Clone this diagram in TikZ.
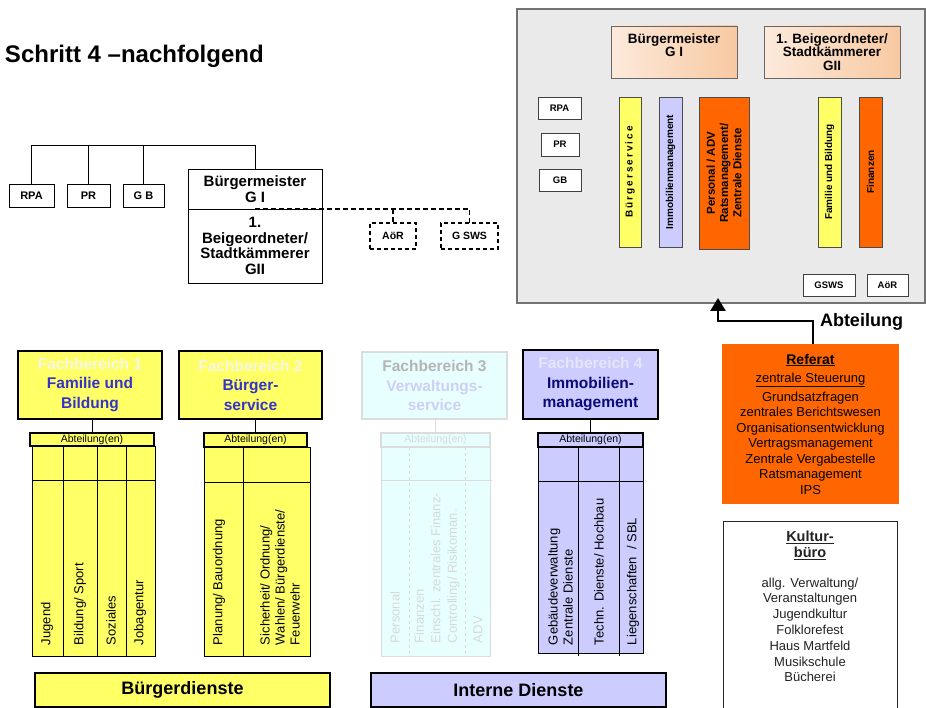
\documentclass[tikz,border=0pt]{standalone}
\usepackage{fontspec}
\setmainfont{Liberation Sans}
\usetikzlibrary{arrows.meta}
\definecolor{cyel}{HTML}{FFFF66}
\definecolor{clav}{HTML}{CCCCFF}
\definecolor{corg}{HTML}{FF6600}
\definecolor{cgrey}{HTML}{EAEAEA}
\definecolor{cpeachL}{HTML}{FCEADB}
\definecolor{cpeachR}{HTML}{F8C9A2}
\definecolor{cblue}{HTML}{3333CC}
\definecolor{cnavy}{HTML}{0A0A78}
\definecolor{cfbA}{HTML}{F6F6E6}
\definecolor{cfbD}{HTML}{E6E6FA}
\definecolor{cfbC}{HTML}{B4B4B4}
\definecolor{cfbCb}{HTML}{CFCFF5}
\definecolor{cthreefill}{HTML}{E8FFFF}
\definecolor{cthreeline}{HTML}{DCDCDC}
\definecolor{cthreetext}{HTML}{D6DADA}
\definecolor{ckb}{HTML}{222222}
\tikzset{
  every node/.style={inner sep=0pt, outer sep=0pt, align=center},
  sbox/.style={draw=black, line width=0.9pt, fill=white, font=\bfseries\fontsize{11}{13}\selectfont},
  bmfont/.style={font=\bfseries\fontsize{15}{15.5}\selectfont},
  dbox/.style={draw=black, line width=1.4pt, dash pattern=on 4pt off 3pt, fill=white, font=\bfseries\fontsize{10.5}{13}\selectfont},
  gsbox/.style={draw=black!75, line width=0.8pt, fill=white, font=\bfseries\fontsize{9.5}{11}\selectfont},
  peach/.style={draw=black!60, line width=0.8pt, left color=cpeachL, right color=cpeachR, font=\bfseries\fontsize{13.5}{13.5}\selectfont},
  bar/.style={draw=black!70, line width=0.8pt, rotate=90, font=\bfseries\fontsize{10}{12}\selectfont},
  fbbox/.style={draw=black, line width=2.8pt, font=\bfseries\fontsize{15.5}{19.5}\selectfont},
  hdr/.style={draw=black, line width=1.5pt, font=\fontsize{10.5}{11}\selectfont},
  tbl/.style={draw=black, line width=1pt},
  tline/.style={draw=black, line width=1pt},
  vtext/.style={rotate=90, anchor=west, align=left, font=\fontsize{13}{15}\selectfont},
  bigbox/.style={draw=black, line width=2.8pt, font=\bfseries\fontsize{18}{20}\selectfont},
  conn/.style={draw=black, line width=0.9pt},
  dconn/.style={draw=black, line width=1.3pt, dash pattern=on 5pt off 3pt},
}
\begin{document}
\begin{tikzpicture}[x=1pt,y=-1pt]
\useasboundingbox (0,0) rectangle (926,708);
\fill[white] (0,0) rectangle (926,708);

% title
\node[anchor=base west, font=\bfseries\fontsize{24}{28}\selectfont] (title) at (5,63) {Schritt 4 –nachfolgend};

% top-left chart
\node[sbox, minimum width=45, minimum height=23] (rpa) at (31.5,195.5) {RPA};
\node[sbox, minimum width=43, minimum height=23] (pr) at (88.5,195.5) {PR};
\node[sbox, minimum width=41, minimum height=23] (gb) at (143.5,195.5) {G B};
\node[sbox, bmfont, minimum width=134, minimum height=40] (bm) at (255,189) {Bürgermeister\\G I};
\node[sbox, bmfont, minimum width=134, minimum height=74] (bg) at (255,246) {1.\\Beigeordneter/\\Stadtkämmerer\\GII};
\node[dbox, minimum width=46, minimum height=26] (aor) at (393,236) {AöR};
\node[dbox, minimum width=57, minimum height=26] (gsws) at (469.5,236) {G SWS};
\coordinate (bus) at (0,145);
\draw[conn] (rpa.north) -- (rpa.north |- bus) -- (bm.north |- bus) -- (bm.north);
\draw[conn] (pr.north) -- (pr.north |- bus);
\draw[conn] (gb.north) -- (gb.north |- bus);
\draw[dconn] (bm.south) -- (gsws.north |- bm.south) -- (gsws.north);
\draw[dconn] (aor.north |- bm.south) -- (aor.north);

% grey box (top right)
\node[draw=black!55, line width=1.8pt, fill=cgrey, minimum width=408, minimum height=294] (grey) at (721,156) {};
\node[peach, minimum width=126, minimum height=52] (gbm) at (674,52) {Bürgermeister\\G I\\~};
\node[peach, minimum width=136, minimum height=52] (gbg) at (832,52) {1. Beigeordneter/\\Stadtkämmerer\\GII};
\node[gsbox, minimum width=43, minimum height=22] (grpa) at (559.5,108) {RPA};
\node[gsbox, minimum width=38, minimum height=23] (gpr) at (560,144.5) {PR};
\node[gsbox, minimum width=42, minimum height=22] (ggb) at (560,180) {GB};
\node[bar, fill=cyel, minimum width=150, minimum height=22] (bsv) at (630,172) {\addfontfeature{LetterSpace=20}Bürgerservice};
\node[bar, fill=clav, minimum width=150, minimum height=23] (bim) at (670.5,172) {Immobilienmanagement};
\node[bar, fill=corg, minimum width=152, minimum height=50, font=\bfseries\fontsize{11.5}{13.3}\selectfont] (bpa) at (724,173) {Personal / ADV\\Ratsmanagement/\\Zentrale Dienste};
\node[bar, fill=cyel, minimum width=150, minimum height=23] (bfb) at (829.5,172) {Familie und Bildung};
\node[bar, fill=corg, minimum width=150, minimum height=23] (bfi) at (870.5,172) {Finanzen};
\node[gsbox, minimum width=52, minimum height=22] (ggsws) at (829,285) {GSWS};
\node[gsbox, minimum width=41, minimum height=22] (gaor) at (887.5,285) {AöR};

% Referat
\node[fill=corg, minimum width=177, minimum height=160, font=\fontsize{13}{15.5}\selectfont] (ref) at (810.5,424)
  {\fontsize{14}{15.5}\selectfont\bfseries\underline{Referat}\\[3pt]
   \fontsize{13}{15.5}\selectfont\mdseries\underline{zentrale Steuerung}\\[3pt]
   Grundsatzfragen\\zentrales Berichtswesen\\Organisationsentwicklung\\Vertragsmanagement\\Zentrale Vergabestelle\\Ratsmanagement\\IPS};
\coordinate (a1) at (813,321);
\coordinate (a2) at (718,321);
\coordinate (tip) at (718,298);
\draw[line width=2.6pt, -{Triangle[width=15pt,length=13pt]}] (ref.north -| a1) -- (a1) -- (a2) -- (tip);
\node[anchor=base west, font=\bfseries\fontsize{18}{20}\selectfont] (abt) at (820,327) {Abteilung};

% Kulturbuero
\node[draw=black!85, line width=1pt, fill=white, minimum width=174, minimum height=201] (kb) at (810,621.5) {};
\node[anchor=north, text=ckb, font=\fontsize{13}{15.8}\selectfont] (kbt) at (810,531)
  {\fontsize{14.5}{15.8}\selectfont\bfseries\underline{Kultur-}\\\fontsize{14.5}{15.8}\selectfont\bfseries\underline{büro}\\[14pt]
   \fontsize{13}{15.8}\selectfont\mdseries allg. Verwaltung/\\Veranstaltungen\\Jugendkultur\\Folklorefest\\Haus Martfeld\\Musikschule\\Bücherei};

% Fachbereich boxes
\node[fbbox, fill=cyel, minimum width=144, minimum height=68] (fb1) at (90,385)
  {\textcolor{cfbA}{Fachbereich 1}\\\textcolor{cblue}{Familie und}\\\textcolor{cblue}{Bildung}};
\node[fbbox, fill=cyel, minimum width=143, minimum height=68] (fb2) at (250.5,385)
  {\textcolor{cfbA}{Fachbereich 2}\\\textcolor{cblue}{Bürger-}\\\textcolor{cblue}{service}};
\node[fbbox, fill=cthreefill, draw=cthreeline, line width=2pt, minimum width=145, minimum height=67] (fb3) at (434.5,385.5)
  {\textcolor{cfbC}{Fachbereich 3}\\\textcolor{cfbCb}{Verwaltungs-}\\\textcolor{cfbCb}{service}};
\node[fbbox, fill=clav, minimum width=135, minimum height=69] (fb4) at (590.5,384.5)
  {\textcolor{cfbD}{Fachbereich 4}\\\textcolor{cnavy}{Immobilien-}\\\textcolor{cnavy}{management}};

% tables
\node[tbl, fill=cyel, minimum width=123, minimum height=210] (t1) at (93.5,551) {};
\node[tbl, fill=cyel, minimum width=106, minimum height=209] (t2) at (257,551.5) {};
\node[tbl, fill=cthreefill, draw=cthreeline, minimum width=109, minimum height=209] (t3) at (435.5,551.5) {};
\node[tbl, fill=clav, minimum width=105, minimum height=206] (t4) at (590.5,550) {};

\draw[tline] (63,446) -- (63,656);
\draw[tline] (97,446) -- (97,656);
\draw[tline] (126,446) -- (126,656);
\draw[tline] (32,480) -- (155,480);
\draw[tline] (243,447) -- (243,656);
\draw[tline] (204,482) -- (310,482);
\draw[cthreeline, line width=1pt, dashed] (409,447) -- (409,656);
\draw[cthreeline, line width=1pt, dashed] (465,447) -- (465,656);
\draw[cthreeline, line width=1pt] (381,480) -- (492,480);
\draw[tline] (578,447) -- (578,656);
\draw[tline] (619,447) -- (619,656);
\draw[tline] (538,481) -- (643,481);

% headers
\node[hdr, fill=cyel, minimum width=124, minimum height=13] (h1) at (92,439.5) {Abteilung(en)};
\node[hdr, fill=cyel, minimum width=103, minimum height=14] (h2) at (255.5,440) {Abteilung(en)};
\node[hdr, fill=cthreefill, draw=cthreeline, text=cthreetext, minimum width=109, minimum height=14] (h3) at (435.5,440) {Abteilung(en)};
\node[hdr, fill=clav, minimum width=105, minimum height=14] (h4) at (590.5,440) {Abteilung(en)};
\draw[conn] (fb1.south -| h1.north) -- (h1.north);
\draw[conn] (fb2.south -| h2.north) -- (h2.north);
\draw[cthreeline, line width=0.9pt] (fb3.south -| h3.north) -- (h3.north);
\draw[conn] (fb4.south -| h4.north) -- (h4.north);

% vertical texts
\node[vtext] (v11) at (47,645) {Jugend};
\node[vtext] (v12) at (80,645) {Bildung/ Sport};
\node[vtext] (v13) at (111,645) {Soziales};
\node[vtext] (v14) at (140,645) {Jobagentur};
\node[vtext] (v21) at (219,645) {Planung/ Bauordnung};
\node[vtext] (v22) at (280,645) {Sicherheit/ Ordnung/\\Wahlen/ Bürgerdienste/\\Feuerwehr};
\node[vtext, text=cthreetext] (v31) at (395,643) {Personal};
\node[vtext, text=cthreetext, font=\fontsize{13}{16.5}\selectfont] (v32) at (437,643) {Finanzen\\Einschl. zentrales Finanz-\\Controlling/ Risikoman.};
\node[vtext, text=cthreetext] (v33) at (478,643) {ADV};
\node[vtext] (v41) at (560.5,645) {Gebäudeverwaltung\\Zentrale Dienste};
\node[vtext] (v42) at (599,645) {Techn. Dienste/ Hochbau};
\node[vtext] (v43) at (633,645) {Liegenschaften~~/ SBL};

% bottom boxes
\node[bigbox, fill=cyel, minimum width=295, minimum height=34] (bd) at (182.5,690) {Bürgerdienste};
\node[bigbox, fill=clav, minimum width=295, minimum height=34] (idn) at (518.5,690) {Interne Dienste};
\end{tikzpicture}
\end{document}
